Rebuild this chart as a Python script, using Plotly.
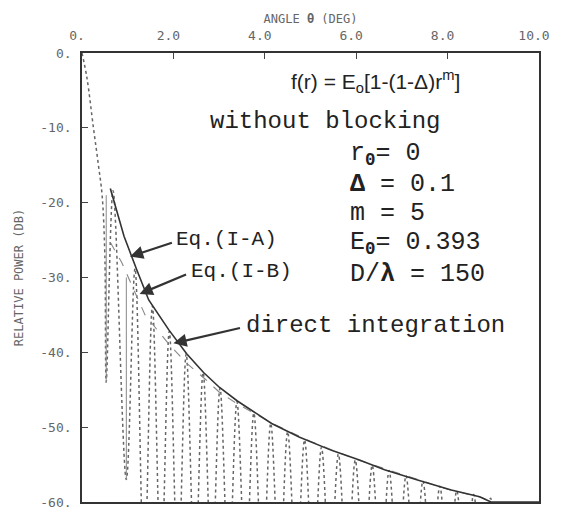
import plotly.graph_objects as go

# direct integration: main lobe, then nulls / sidelobe peaks
main_deg = [0.0, 0.11, 0.25, 0.36, 0.44, 0.50]
main_db = [0.0, -3.4, -10.0, -15.0, -19.0, -27.0]

null_deg = [0.53, 0.97, 1.36, 1.73, 2.10, 2.47, 2.84, 3.21, 3.58, 3.95, 4.32, 4.69,
            5.06, 5.43, 5.80, 6.17, 6.54, 6.91, 7.28, 7.65, 8.02, 8.39, 8.76, 9.13]
null_db = [-44, -57, -70, -70, -70, -70, -70, -70, -70, -70, -70, -70,
           -70, -70, -70, -70, -70, -70, -70, -70, -70, -70, -70, -70]
peak_deg = [0.68, 1.16, 1.54, 1.91, 2.28, 2.65, 3.02, 3.39, 3.76, 4.13, 4.50, 4.87,
            5.24, 5.61, 5.98, 6.35, 6.72, 7.09, 7.46, 7.83, 8.20, 8.57, 8.94]
peak_db = [-18.4, -28.8, -33.8, -37.2, -40.2, -42.7, -44.8, -46.6, -48.1, -49.5, -50.6, -51.7,
           -52.7, -53.6, -54.4, -55.1, -55.8, -56.5, -57.2, -57.9, -58.5, -59.0, -59.5]

# Eq. (I-A), solid envelope
ia_deg = [0.62, 0.92, 1.20, 1.46, 1.90, 2.29, 2.66, 3.01, 3.40, 4.15, 4.75, 5.46,
          6.07, 6.62, 7.36, 8.08, 8.70, 8.95, 10.0]
ia_db = [-18.1, -24.5, -29.0, -33.0, -37.0, -40.2, -42.7, -44.7, -46.5, -49.5, -51.3, -53.1,
         -54.4, -55.7, -57.1, -58.4, -59.3, -60.0, -60.0]

# Eq. (I-B), dashed
ib_deg = [0.62, 0.87, 1.16, 1.38, 1.90, 2.30, 2.70, 3.00, 3.40, 3.80, 4.20, 5.00,
          6.00, 7.00, 8.00, 8.75, 8.95]
ib_db = [-25.3, -28.0, -32.0, -35.0, -38.9, -41.5, -43.6, -45.3, -46.9, -48.3, -49.6, -51.9,
         -54.3, -56.3, -58.3, -59.4, -60.0]

# first two solid null lines
sn_deg = [0.53, 0.53, None, 0.97, 0.97]
sn_db = [-19.0, -44.0, None, -30.0, -57.0]

xticks = [0, 2, 4, 6, 8, 10]
xticktext = ["0.", "2.0", "4.0", "6.0", "8.0", "10.0"]
yticks = [0, -10, -20, -30, -40, -50, -60]
yticktext = ["0.", "-10.", "-20.", "-30.", "-40.", "-50.", "-60."]

di_x = list(main_deg)
di_y = list(main_db)
for i in range(len(peak_deg)):
    di_x += [null_deg[i], peak_deg[i]]
    di_y += [null_db[i], peak_db[i]]
di_x.append(null_deg[-1])
di_y.append(null_db[-1])

fig = go.Figure()
fig.add_trace(go.Scatter(x=di_x, y=di_y, mode="lines", line_shape="spline",
                         line=dict(color="#666666", width=1.5, dash="dot")))
fig.add_trace(go.Scatter(x=ib_deg, y=ib_db, mode="lines",
                         line=dict(color="#888888", width=1.1, dash="dash")))
fig.add_trace(go.Scatter(x=sn_deg, y=sn_db, mode="lines",
                         line=dict(color="#8a8a8a", width=1)))
fig.add_trace(go.Scatter(x=ia_deg, y=ia_db, mode="lines",
                         line=dict(color="#333333", width=1.6)))

mono = "Liberation Mono"
txt = dict(color="#222222", family=mono, size=24)
ptxt = dict(color="#222222", family=mono, size=25)
notes = [
    (4.52, -3.8, "f(r) = E<sub>o</sub>[1-(1-Δ)r<sup>m</sup>]",
     dict(color="#222222", family="Liberation Sans", size=21)),
    (2.76, -9.1, "without blocking", txt),
    (5.82, -13.6, "r<b><sub>0</sub></b>= 0", ptxt),
    (5.82, -17.6, "<b>Δ</b> = 0.1", ptxt),
    (5.82, -21.5, "m = 5", ptxt),
    (5.82, -25.5, "E<b><sub>0</sub></b>= 0.393", ptxt),
    (5.82, -29.6, "D/<b>λ</b> = 150", ptxt),
    (2.02, -24.9, "Eq.(I-A)", dict(color="#222222", family=mono, size=21)),
    (2.35, -29.2, "Eq.(I-B)", dict(color="#222222", family=mono, size=21)),
    (3.54, -36.4, "direct integration", txt),
]
for x, y, t, f in notes:
    fig.add_annotation(x=x, y=y, text=t, showarrow=False, xanchor="left",
                       yanchor="middle", font=f)

arrows = [((2.0, -25.3), (1.05, -27.2)),
          ((2.31, -29.5), (1.26, -32.2)),
          ((3.49, -36.7), (2.0, -38.8))]
for (tx, ty), (hx, hy) in arrows:
    fig.add_annotation(x=hx, y=hy, ax=tx, ay=ty, axref="x", ayref="y", text="",
                       showarrow=True, arrowhead=2, arrowsize=1.2, arrowwidth=2.2,
                       arrowcolor="#333333")

tick_font = dict(family="DejaVu Sans Mono", size=13, color="#666")
fig.update_xaxes(range=[0, 10], side="top", tickvals=xticks, ticktext=xticktext,
                 ticks="inside", ticklen=6, tickcolor="#444", showgrid=False,
                 zeroline=False, showline=True, mirror=True, linecolor="#333",
                 linewidth=1.6, tickfont=tick_font, ticklabelstandoff=6,
                 ticklabelshift=-5,
                 title=dict(text="ANGLE <b>θ</b> (DEG)", standoff=2,
                            font=dict(family="DejaVu Sans Mono", size=12, color="#666")))
fig.update_yaxes(range=[-60, 0], tickvals=yticks, ticktext=yticktext,
                 ticks="inside", ticklen=6, tickcolor="#444", showgrid=False,
                 zeroline=False, showline=True, mirror=True, linecolor="#333",
                 linewidth=1.6, tickfont=tick_font, ticklabelstandoff=6,
                 title=dict(text="RELATIVE POWER (DB)", standoff=14,
                            font=dict(family="DejaVu Sans Mono", size=12, color="#666")))

# page body has an 8px margin, so the figure is drawn 8px in from the corner
fig.update_layout(width=555, height=512, showlegend=False,
                  margin=dict(l=72, r=24, t=40, b=10),
                  plot_bgcolor="white", paper_bgcolor="white")
fig.write_html("out.html")
